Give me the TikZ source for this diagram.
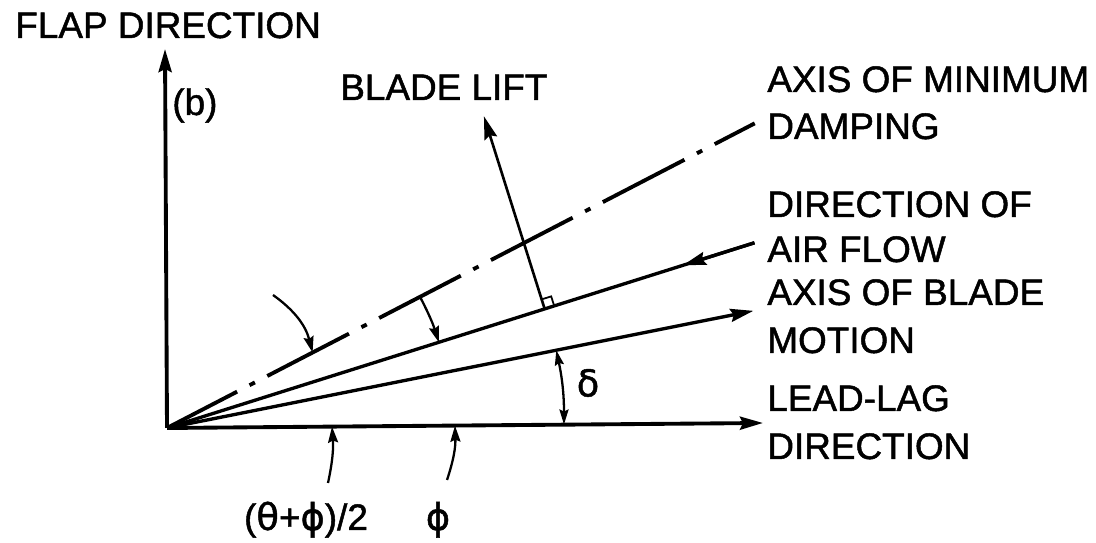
\documentclass[tikz,border=0pt]{standalone}
\usepackage{fontspec}
\setmainfont{Liberation Sans}[UprightFeatures={FakeBold=1.3}]
\newfontfamily\greekfont{DejaVu Sans}[FakeBold=1.3]
\usetikzlibrary{arrows.meta}

\begin{document}
\begin{tikzpicture}[x=0.02cm, y=0.02cm,
  font=\fontsize{21}{25}\selectfont,
  >={Stealth[length=0.46cm,width=0.26cm,inset=0.06cm]},
  axis/.style={line width=2.2pt},
  ray/.style={line width=1.9pt},
  pointer/.style={line width=1.3pt, -{Stealth[length=0.32cm,width=0.2cm,inset=0.04cm]}},
  lbl/.style={anchor=base west, inner sep=0pt}]
\useasboundingbox (0,0) rectangle (1096,543);

% origin and the rays
\coordinate (O) at (167,115);
\coordinate (flaptip) at (165,494);
\coordinate (lltip) at (763,120);
\path (O) ++(27.4:662) coordinate (dampend);
\path (O) ++(17.5:616) coordinate (airend);
\path (O) ++(17.5:541) coordinate (airmid);
\path (O) ++(11.3:598) coordinate (motiontip);
\path (O) ++(17.5:396) coordinate (liftfoot);
\path (liftfoot) ++(107.5:202) coordinate (lifttip);

\draw[axis,->] (O) -- (flaptip);
\draw[axis,->] (O) -- (lltip);
\draw[axis, dash pattern=on 1.84cm off 0.28cm on 0.12cm off 0.28cm, dash phase=0.26cm] (O) -- (dampend);
\draw[ray] (airend) -- (O);
\draw[ray,->] (airend) -- (airmid);
\draw[ray,->] (O) -- (motiontip);
\draw[line width=1.5pt,->] (liftfoot) -- (lifttip);
\draw[line width=1pt] (liftfoot) ++(17.5:10) -- ++(107.5:10) -- ++(197.5:10);

% angle pointers
\coordinate (dampptr) at (273,248);
\path (O) ++(27.4:164) coordinate (damphit);
\path (O) ++(27.4:285) coordinate (damparc);
\path (O) ++(17.5:285) coordinate (airarc);
\path (O) ++(11.3:397) coordinate (motarc);
\path (O) ++(0.5:397) coordinate (llarc);
\coordinate (halfptr) at (328,60);
\coordinate (halfhit) at (332,116.4);
\coordinate (phiptr) at (447,63);
\coordinate (phihit) at (455,117.3);

\draw[pointer] (dampptr) to[bend left=20] (damphit);
\draw[pointer] (damparc) to[bend left=5] (airarc);
\draw[line width=1.3pt, {Stealth[length=0.3cm,width=0.18cm,inset=0.04cm]}-{Stealth[length=0.3cm,width=0.18cm,inset=0.04cm]}] (motarc) to[bend left=6] (llarc);
\draw[pointer] (halfptr) to[bend right=8] (halfhit);
\draw[pointer] (phiptr) to[bend right=10] (phihit);

% labels
\node[lbl] (flap) at (15,505) {FLAP DIRECTION};
\node[lbl] (b) at (172,428) {(b)};
\node[lbl] (lift) at (340,443) {BLADE LIFT};
\foreach \nm/\y/\txt in {minaxis/451/AXIS OF MINIMUM, damping/404/DAMPING,
  dirof/326/DIRECTION OF, airflow/281/AIR FLOW,
  axisblade/238/AXIS OF BLADE, motion/190/MOTION,
  leadlag/132/LEAD-LAG, direction/84/DIRECTION}
  \node[lbl] (\nm) at (767,\y) {\txt};
\node (delta) at (588,160) {\greekfont δ};
\node[anchor=base, inner sep=0pt] (half) at (306,13) {({\greekfont θ}+{\greekfont ϕ})/2};
\node[anchor=base, inner sep=0pt] (phi) at (438,13) {\greekfont ϕ};
\end{tikzpicture}
\end{document}
